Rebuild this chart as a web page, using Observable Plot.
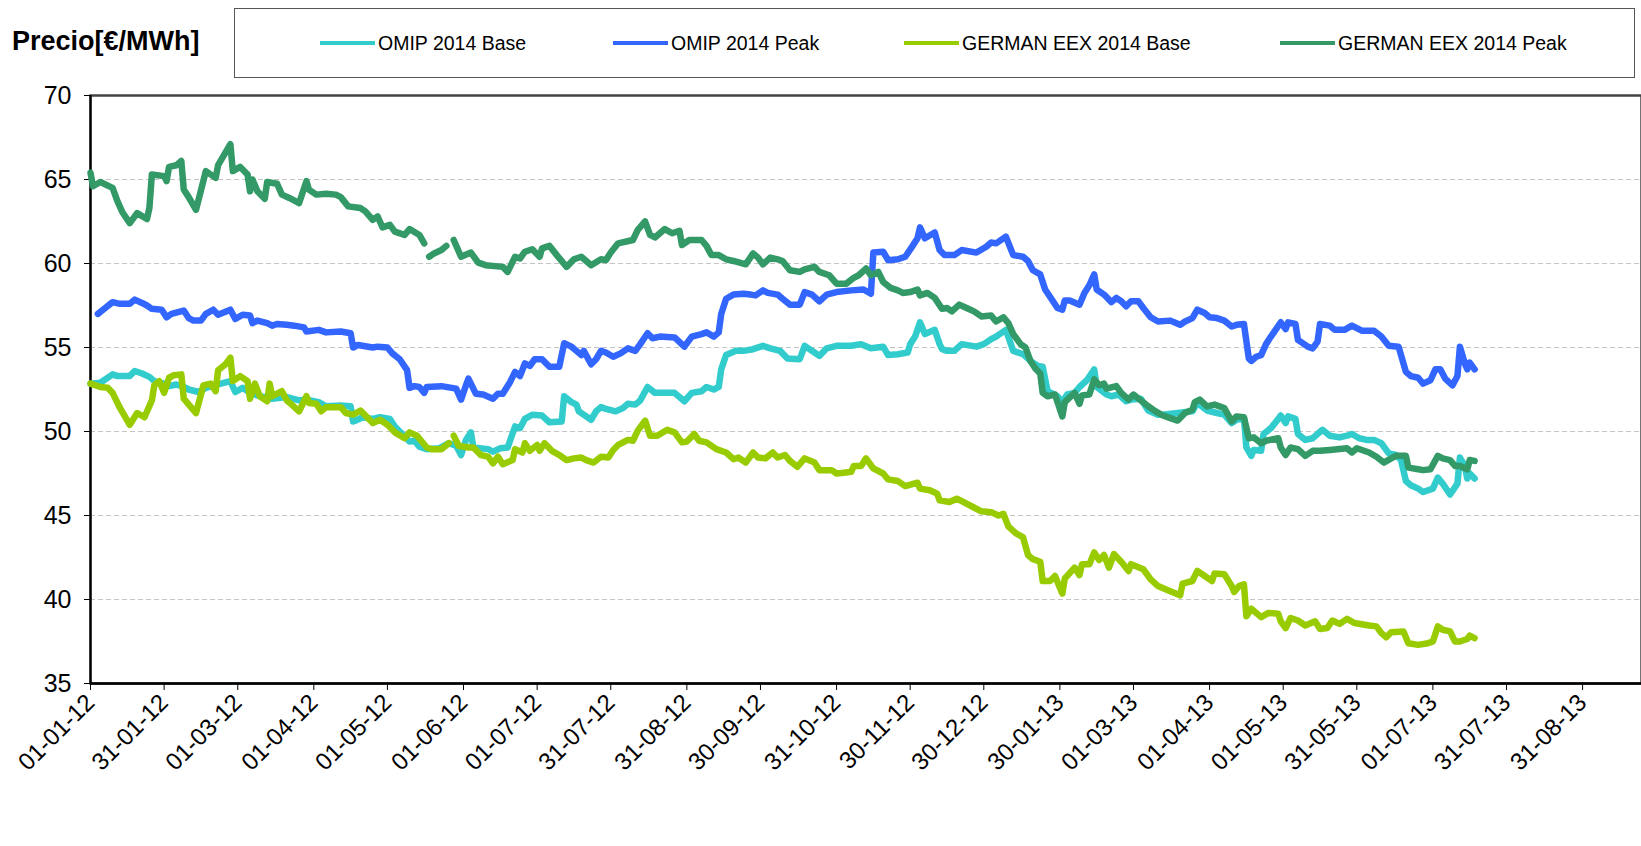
<!DOCTYPE html>
<html><head><meta charset="utf-8">
<script src="https://cdn.jsdelivr.net/npm/d3@7"></script>
<script src="https://cdn.jsdelivr.net/npm/@observablehq/plot@0.6"></script>
<style>
body{margin:0;background:#fff;font-family:"Liberation Sans",Arial,sans-serif;}
#wrap{position:relative;width:1641px;height:846px;overflow:hidden;background:#fff;}
#chart{position:absolute;left:0;top:0;}
#title{position:absolute;left:12px;top:26px;font-weight:bold;font-size:27px;color:#000;white-space:nowrap;}
#legend{position:absolute;left:234px;top:8px;width:1401px;height:70px;border:1px solid #555;box-sizing:border-box;background:#fff;}
.item{position:absolute;top:0;height:100%;display:flex;align-items:center;font-size:19.5px;color:#000;white-space:nowrap;}
.sw{display:inline-block;width:55px;height:4px;margin-right:3px;}
</style></head>
<body><div id="wrap"><div id="chart"></div><div id="title">Precio[€/MWh]</div><div id="legend"></div></div>
<script>
const seriesNames = ["OMIP 2014 Base","OMIP 2014 Peak","GERMAN EEX 2014 Base","GERMAN EEX 2014 Peak"];
const seriesColors = ["#33CCCC","#3366FF","#99CC00","#339966"];
const yTicks = [35,40,45,50,55,60,65,70];
const gridValues = [40,45,50,55,60,65];
const tickDates = ["2012-01-01","2012-01-31","2012-03-01","2012-04-01","2012-05-01","2012-06-01","2012-07-01","2012-07-31","2012-08-31","2012-09-30","2012-10-31","2012-11-30","2012-12-30","2013-01-30","2013-03-01","2013-04-01","2013-05-01","2013-05-31","2013-07-01","2013-07-31","2013-08-31"];

const omipBaseDates = ["2012-01-01","2012-01-05","2012-01-10","2012-01-12","2012-01-17","2012-01-19","2012-01-22","2012-01-25","2012-01-27","2012-01-31","2012-02-02","2012-02-05","2012-02-08","2012-02-10","2012-02-14","2012-02-17","2012-02-22","2012-02-27","2012-02-29","2012-03-03","2012-03-06","2012-03-10","2012-03-15","2012-03-21","2012-03-26","2012-03-29","2012-04-03","2012-04-06","2012-04-12","2012-04-16","2012-04-17","2012-04-18","2012-04-21","2012-04-25","2012-04-28","2012-05-02","2012-05-04","2012-05-07","2012-05-10","2012-05-12","2012-05-14","2012-05-17","2012-05-22","2012-05-26","2012-05-29","2012-05-31","2012-06-02","2012-06-04","2012-06-05","2012-06-11","2012-06-13","2012-06-16","2012-06-19","2012-06-22","2012-06-24","2012-06-26","2012-06-29","2012-07-03","2012-07-06","2012-07-11","2012-07-12","2012-07-15","2012-07-17","2012-07-18","2012-07-23","2012-07-25","2012-07-27","2012-07-29","2012-08-02","2012-08-05","2012-08-07","2012-08-10","2012-08-12","2012-08-15","2012-08-18","2012-08-22","2012-08-26","2012-08-30","2012-09-02","2012-09-06","2012-09-08","2012-09-11","2012-09-13","2012-09-14","2012-09-16","2012-09-20","2012-09-23","2012-09-27","2012-10-01","2012-10-04","2012-10-08","2012-10-11","2012-10-16","2012-10-18","2012-10-22","2012-10-24","2012-10-27","2012-10-31","2012-11-06","2012-11-10","2012-11-14","2012-11-19","2012-11-21","2012-11-25","2012-11-29","2012-11-30","2012-12-02","2012-12-04","2012-12-06","2012-12-10","2012-12-12","2012-12-13","2012-12-15","2012-12-18","2012-12-21","2012-12-27","2012-12-30","2013-01-02","2013-01-04","2013-01-08","2013-01-11","2013-01-15","2013-01-18","2013-01-21","2013-01-23","2013-01-25","2013-01-29","2013-01-31","2013-02-02","2013-02-05","2013-02-07","2013-02-10","2013-02-13","2013-02-14","2013-02-18","2013-02-20","2013-02-23","2013-02-26","2013-02-28","2013-03-04","2013-03-07","2013-03-11","2013-03-13","2013-03-19","2013-03-25","2013-03-27","2013-03-31","2013-04-04","2013-04-07","2013-04-10","2013-04-12","2013-04-15","2013-04-16","2013-04-18","2013-04-19","2013-04-22","2013-04-23","2013-04-26","2013-04-29","2013-04-30","2013-05-02","2013-05-03","2013-05-06","2013-05-07","2013-05-10","2013-05-13","2013-05-15","2013-05-17","2013-05-20","2013-05-24","2013-05-27","2013-05-29","2013-06-01","2013-06-04","2013-06-07","2013-06-10","2013-06-13","2013-06-16","2013-06-18","2013-06-20","2013-06-22","2013-06-25","2013-06-27","2013-07-01","2013-07-03","2013-07-05","2013-07-08","2013-07-11","2013-07-12","2013-07-14","2013-07-15","2013-07-16","2013-07-18"];
const omipBaseValues = [52.85,52.9,53.4,53.3,53.3,53.6,53.45,53.25,53.0,52.85,52.7,52.8,52.65,52.5,52.35,52.6,52.8,53.0,52.35,52.6,52.3,52.1,51.95,52.05,51.85,51.9,51.75,51.5,51.55,51.5,50.6,50.65,50.85,50.75,50.85,50.75,50.3,49.85,49.4,49.45,49.1,48.95,49.0,49.3,49.15,48.6,49.5,49.95,49.05,48.95,48.8,49.0,49.05,50.3,50.2,50.75,51.0,50.95,50.55,50.6,52.1,51.75,51.6,51.2,50.7,51.2,51.45,51.35,51.2,51.4,51.65,51.6,51.85,52.65,52.3,52.3,52.3,51.8,52.3,52.4,52.65,52.5,52.65,53.7,54.55,54.8,54.8,54.9,55.1,54.95,54.8,54.35,54.3,55.1,54.7,54.5,54.95,55.1,55.1,55.2,54.95,55.05,54.55,54.6,54.7,55.2,55.65,56.5,55.8,56.05,55.2,54.9,54.8,54.8,55.2,55.05,55.2,55.5,55.65,56.05,54.8,54.6,54.2,53.9,53.85,52.4,52.1,51.75,52.2,52.3,52.65,53.05,53.7,52.65,52.2,52.1,52.2,51.8,51.9,51.95,51.25,51.0,51.0,51.1,51.2,51.7,51.25,51.1,51.0,50.5,50.7,50.8,49.05,48.55,48.9,48.85,49.85,50.2,50.75,50.95,50.5,50.9,50.75,49.85,49.5,49.6,49.85,50.1,49.75,49.65,49.75,49.85,49.6,49.5,49.5,49.3,48.7,48.6,48.3,47.05,46.8,46.6,46.4,46.6,47.25,46.9,46.25,46.9,48.45,47.95,47.2,47.5,47.2];

const omipPeakDates = ["2012-01-04","2012-01-07","2012-01-10","2012-01-13","2012-01-17","2012-01-19","2012-01-22","2012-01-24","2012-01-26","2012-01-30","2012-02-01","2012-02-03","2012-02-08","2012-02-10","2012-02-12","2012-02-15","2012-02-17","2012-02-20","2012-02-22","2012-02-27","2012-02-29","2012-03-03","2012-03-06","2012-03-07","2012-03-09","2012-03-13","2012-03-15","2012-03-17","2012-03-21","2012-03-24","2012-03-28","2012-03-29","2012-04-03","2012-04-06","2012-04-12","2012-04-16","2012-04-17","2012-04-19","2012-04-25","2012-04-27","2012-05-01","2012-05-03","2012-05-06","2012-05-09","2012-05-10","2012-05-12","2012-05-14","2012-05-16","2012-05-17","2012-05-23","2012-05-29","2012-05-31","2012-06-02","2012-06-03","2012-06-06","2012-06-09","2012-06-13","2012-06-15","2012-06-17","2012-06-20","2012-06-22","2012-06-24","2012-06-26","2012-06-28","2012-06-30","2012-07-03","2012-07-06","2012-07-10","2012-07-12","2012-07-15","2012-07-17","2012-07-19","2012-07-20","2012-07-23","2012-07-25","2012-07-27","2012-07-29","2012-08-01","2012-08-04","2012-08-07","2012-08-10","2012-08-12","2012-08-15","2012-08-17","2012-08-20","2012-08-26","2012-08-30","2012-09-02","2012-09-06","2012-09-08","2012-09-11","2012-09-13","2012-09-14","2012-09-16","2012-09-19","2012-09-23","2012-09-26","2012-09-28","2012-10-01","2012-10-03","2012-10-07","2012-10-09","2012-10-12","2012-10-16","2012-10-18","2012-10-21","2012-10-24","2012-10-27","2012-10-31","2012-11-06","2012-11-11","2012-11-14","2012-11-15","2012-11-19","2012-11-21","2012-11-25","2012-11-28","2012-12-01","2012-12-03","2012-12-04","2012-12-06","2012-12-10","2012-12-12","2012-12-14","2012-12-18","2012-12-21","2012-12-27","2012-12-31","2013-01-02","2013-01-04","2013-01-08","2013-01-11","2013-01-15","2013-01-17","2013-01-19","2013-01-22","2013-01-24","2013-01-27","2013-01-29","2013-01-31","2013-02-01","2013-02-03","2013-02-07","2013-02-09","2013-02-11","2013-02-13","2013-02-14","2013-02-17","2013-02-20","2013-02-22","2013-02-24","2013-02-26","2013-02-28","2013-03-03","2013-03-05","2013-03-08","2013-03-11","2013-03-16","2013-03-20","2013-03-22","2013-03-25","2013-03-27","2013-03-30","2013-04-01","2013-04-04","2013-04-07","2013-04-10","2013-04-12","2013-04-15","2013-04-17","2013-04-18","2013-04-20","2013-04-22","2013-04-24","2013-04-26","2013-04-30","2013-05-02","2013-05-03","2013-05-06","2013-05-07","2013-05-11","2013-05-13","2013-05-15","2013-05-16","2013-05-20","2013-05-22","2013-05-26","2013-05-29","2013-06-02","2013-06-07","2013-06-10","2013-06-13","2013-06-17","2013-06-20","2013-06-22","2013-06-25","2013-06-27","2013-06-30","2013-07-02","2013-07-04","2013-07-06","2013-07-09","2013-07-11","2013-07-12","2013-07-14","2013-07-15","2013-07-16","2013-07-18"];
const omipPeakValues = [57.0,57.35,57.7,57.6,57.6,57.85,57.65,57.5,57.3,57.25,56.8,57.0,57.2,56.75,56.6,56.6,57.0,57.25,56.95,57.25,56.7,56.95,56.9,56.45,56.6,56.45,56.3,56.4,56.35,56.3,56.2,55.95,56.05,55.9,55.95,55.85,55.0,55.15,55.0,55.05,55.0,54.65,54.3,53.65,52.6,52.7,52.65,52.3,52.65,52.7,52.55,51.9,52.75,53.15,52.25,52.2,51.95,52.25,52.25,52.95,53.55,53.3,54.05,53.9,54.3,54.3,53.85,53.85,55.25,55.05,54.8,54.55,54.8,54.0,54.3,54.8,54.7,54.45,54.65,54.95,54.8,55.2,55.85,55.55,55.65,55.6,55.05,55.65,55.8,55.9,55.65,55.9,57.0,57.9,58.15,58.2,58.15,58.1,58.4,58.25,58.15,57.9,57.55,57.55,58.3,58.15,57.75,58.15,58.3,58.4,58.45,58.2,60.65,60.7,60.2,60.25,60.4,61.05,61.5,62.15,61.5,61.85,60.8,60.5,60.5,60.8,60.65,61.0,61.25,61.2,61.6,60.5,60.4,60.15,59.6,59.35,58.45,57.8,57.35,57.25,57.8,57.8,57.55,58.25,58.7,59.35,58.45,58.15,57.7,57.95,57.75,57.45,57.75,57.75,57.35,56.8,56.55,56.6,56.35,56.55,56.75,57.25,57.05,56.8,56.75,56.6,56.25,56.35,56.4,54.35,54.2,54.45,54.55,55.2,55.65,56.5,56.1,56.5,56.4,55.45,55.05,54.95,55.35,56.4,56.3,56.05,56.05,56.3,56.0,56.0,55.65,55.1,55.05,53.55,53.3,53.2,52.85,53.05,53.7,53.7,53.15,52.75,53.3,55.05,54.05,53.7,54.1,53.7];

const germanBaseDates = ["2012-01-01","2012-01-05","2012-01-08","2012-01-10","2012-01-13","2012-01-17","2012-01-20","2012-01-23","2012-01-26","2012-01-27","2012-01-29","2012-01-31","2012-02-02","2012-02-04","2012-02-07","2012-02-08","2012-02-13","2012-02-16","2012-02-19","2012-02-21","2012-02-22","2012-02-25","2012-02-27","2012-02-28","2012-03-02","2012-03-05","2012-03-06","2012-03-08","2012-03-10","2012-03-13","2012-03-14","2012-03-15","2012-03-19","2012-03-21","2012-03-23","2012-03-26","2012-03-29","2012-03-30","2012-04-02","2012-04-04","2012-04-06","2012-04-12","2012-04-14","2012-04-17","2012-04-20","2012-04-22","2012-04-25","2012-04-28","2012-05-01","2012-05-04","2012-05-08","2012-05-10","2012-05-13","2012-05-17","2012-05-19","2012-05-23","2012-05-26","2012-05-27","2012-05-28","2012-05-30","2012-06-03","2012-06-05","2012-06-08","2012-06-11","2012-06-13","2012-06-15","2012-06-17","2012-06-21","2012-06-22","2012-06-25","2012-06-26","2012-06-28","2012-07-01","2012-07-02","2012-07-04","2012-07-07","2012-07-10","2012-07-13","2012-07-16","2012-07-19","2012-07-21","2012-07-24","2012-07-27","2012-07-30","2012-08-01","2012-08-03","2012-08-07","2012-08-09","2012-08-11","2012-08-14","2012-08-16","2012-08-19","2012-08-23","2012-08-26","2012-08-29","2012-08-31","2012-09-03","2012-09-05","2012-09-08","2012-09-12","2012-09-16","2012-09-19","2012-09-21","2012-09-24","2012-09-27","2012-09-29","2012-10-02","2012-10-05","2012-10-07","2012-10-10","2012-10-12","2012-10-15","2012-10-18","2012-10-22","2012-10-24","2012-10-29","2012-10-31","2012-11-03","2012-11-06","2012-11-07","2012-11-10","2012-11-12","2012-11-15","2012-11-19","2012-11-21","2012-11-25","2012-11-28","2012-12-03","2012-12-04","2012-12-08","2012-12-11","2012-12-12","2012-12-16","2012-12-19","2012-12-21","2012-12-25","2012-12-29","2013-01-02","2013-01-05","2013-01-07","2013-01-09","2013-01-12","2013-01-15","2013-01-17","2013-01-19","2013-01-22","2013-01-23","2013-01-26","2013-01-28","2013-01-31","2013-02-01","2013-02-05","2013-02-07","2013-02-08","2013-02-11","2013-02-13","2013-02-15","2013-02-17","2013-02-19","2013-02-21","2013-02-24","2013-02-27","2013-02-28","2013-03-05","2013-03-08","2013-03-11","2013-03-15","2013-03-20","2013-03-21","2013-03-25","2013-03-27","2013-03-30","2013-04-02","2013-04-03","2013-04-07","2013-04-10","2013-04-11","2013-04-13","2013-04-15","2013-04-16","2013-04-18","2013-04-22","2013-04-25","2013-04-29","2013-04-30","2013-05-02","2013-05-04","2013-05-07","2013-05-10","2013-05-14","2013-05-16","2013-05-19","2013-05-21","2013-05-24","2013-05-27","2013-05-30","2013-06-05","2013-06-08","2013-06-10","2013-06-12","2013-06-14","2013-06-19","2013-06-21","2013-06-25","2013-06-29","2013-07-01","2013-07-03","2013-07-05","2013-07-08","2013-07-10","2013-07-12","2013-07-15","2013-07-16","2013-07-18"];
const germanBaseValues = [52.85,52.65,52.6,52.3,51.4,50.4,51.1,50.85,51.85,52.75,53.0,52.3,53.2,53.35,53.4,51.95,51.1,52.75,52.85,52.4,53.65,54.0,54.4,53.0,53.3,53.0,51.95,52.85,52.1,51.8,52.85,52.1,52.4,51.85,51.6,51.2,52.1,51.7,51.65,51.2,51.45,51.45,51.1,51.0,51.25,50.95,50.5,50.7,50.4,49.95,49.6,49.95,49.75,49.05,48.95,48.95,49.3,null,49.75,49.15,49.05,49.05,48.6,48.5,48.1,48.5,48.05,48.3,48.95,48.75,49.3,48.85,49.2,48.85,49.3,48.85,48.6,48.3,48.4,48.45,48.3,48.15,48.5,48.45,48.9,49.2,49.5,49.45,50.05,50.65,49.75,49.75,50.1,49.95,49.35,49.4,49.85,49.45,49.35,48.95,48.75,48.35,48.45,48.15,48.75,48.45,48.4,48.75,48.45,48.6,48.25,47.9,48.4,48.15,47.7,47.7,47.5,47.55,47.6,47.95,47.95,48.4,47.8,47.5,47.15,47.05,46.75,46.95,46.6,46.5,46.3,45.9,45.8,46.0,45.85,45.55,45.25,45.2,45.0,45.1,44.35,43.95,43.7,42.65,42.4,42.25,41.1,41.1,41.4,40.35,41.25,41.9,41.45,42.1,42.1,42.8,42.35,42.65,41.9,42.7,42.25,41.7,42.1,41.8,41.2,40.8,40.55,40.25,40.95,41.1,41.7,41.4,41.1,41.55,41.5,40.8,40.45,40.8,40.9,39.0,39.45,38.95,39.2,39.15,38.7,38.3,38.9,38.75,38.45,38.7,38.25,38.3,38.75,38.55,38.85,38.6,38.45,38.4,38.0,37.75,38.05,38.1,37.4,37.3,37.4,37.5,38.4,38.2,38.1,37.5,37.5,37.65,37.85,37.7];

const germanPeakDates = ["2012-01-01","2012-01-02","2012-01-05","2012-01-10","2012-01-12","2012-01-14","2012-01-17","2012-01-20","2012-01-24","2012-01-25","2012-01-26","2012-01-31","2012-02-01","2012-02-02","2012-02-05","2012-02-07","2012-02-08","2012-02-10","2012-02-13","2012-02-17","2012-02-21","2012-02-22","2012-02-27","2012-02-28","2012-03-02","2012-03-05","2012-03-06","2012-03-07","2012-03-09","2012-03-12","2012-03-13","2012-03-17","2012-03-19","2012-03-22","2012-03-26","2012-03-29","2012-03-30","2012-04-02","2012-04-06","2012-04-10","2012-04-12","2012-04-15","2012-04-20","2012-04-22","2012-04-25","2012-04-27","2012-04-29","2012-05-02","2012-05-04","2012-05-08","2012-05-10","2012-05-14","2012-05-16","2012-05-17","2012-05-18","2012-05-20","2012-05-23","2012-05-25","2012-05-27","2012-05-28","2012-05-31","2012-06-04","2012-06-07","2012-06-10","2012-06-17","2012-06-19","2012-06-22","2012-06-24","2012-06-26","2012-06-29","2012-07-02","2012-07-03","2012-07-06","2012-07-09","2012-07-13","2012-07-16","2012-07-19","2012-07-21","2012-07-23","2012-07-27","2012-07-29","2012-07-31","2012-08-03","2012-08-09","2012-08-11","2012-08-14","2012-08-16","2012-08-18","2012-08-22","2012-08-25","2012-08-28","2012-08-29","2012-09-01","2012-09-06","2012-09-08","2012-09-10","2012-09-13","2012-09-16","2012-09-19","2012-09-24","2012-09-27","2012-09-29","2012-10-01","2012-10-04","2012-10-07","2012-10-09","2012-10-12","2012-10-16","2012-10-18","2012-10-22","2012-10-24","2012-10-28","2012-10-31","2012-11-04","2012-11-07","2012-11-09","2012-11-12","2012-11-14","2012-11-17","2012-11-19","2012-11-22","2012-11-25","2012-11-27","2012-11-30","2012-12-03","2012-12-04","2012-12-07","2012-12-10","2012-12-13","2012-12-15","2012-12-17","2012-12-20","2012-12-23","2012-12-26","2012-12-29","2013-01-02","2013-01-04","2013-01-07","2013-01-09","2013-01-11","2013-01-14","2013-01-16","2013-01-18","2013-01-20","2013-01-22","2013-01-23","2013-01-25","2013-01-28","2013-01-31","2013-02-01","2013-02-05","2013-02-07","2013-02-08","2013-02-11","2013-02-13","2013-02-15","2013-02-17","2013-02-18","2013-02-22","2013-02-24","2013-02-27","2013-03-01","2013-03-04","2013-03-07","2013-03-10","2013-03-13","2013-03-16","2013-03-19","2013-03-22","2013-03-25","2013-03-26","2013-03-28","2013-03-31","2013-04-03","2013-04-07","2013-04-10","2013-04-12","2013-04-15","2013-04-17","2013-04-19","2013-04-22","2013-04-24","2013-04-29","2013-04-30","2013-05-02","2013-05-04","2013-05-07","2013-05-10","2013-05-13","2013-05-16","2013-05-20","2013-05-27","2013-05-29","2013-05-31","2013-06-05","2013-06-08","2013-06-11","2013-06-14","2013-06-16","2013-06-20","2013-06-21","2013-06-25","2013-06-27","2013-06-30","2013-07-03","2013-07-05","2013-07-08","2013-07-10","2013-07-12","2013-07-15","2013-07-16","2013-07-18"];
const germanPeakValues = [65.4,64.6,64.85,64.5,63.7,63.05,62.4,63.0,62.65,63.3,65.3,65.2,64.9,65.75,65.85,66.1,64.4,63.95,63.2,65.5,65.1,65.85,67.1,65.5,65.75,65.3,64.3,65.0,64.3,63.85,64.85,64.75,64.1,63.9,63.6,64.9,64.4,64.1,64.15,64.1,63.95,63.4,63.3,63.1,62.6,62.8,62.15,62.3,61.9,61.7,62.05,61.7,61.2,null,60.4,60.6,60.8,61.05,null,61.4,60.4,60.65,60.05,59.9,59.8,59.5,60.4,60.3,60.7,60.85,60.4,60.9,61.05,60.5,59.8,60.25,60.4,60.15,59.9,60.25,60.2,60.65,61.2,61.4,62.0,62.5,61.7,61.55,62.05,61.8,61.95,61.1,61.4,61.4,61.05,60.5,60.5,60.25,60.15,59.95,60.6,60.35,59.95,60.35,60.25,60.15,59.6,59.5,59.65,59.8,59.5,59.3,58.8,58.8,59.15,59.3,59.7,59.3,59.5,58.9,58.55,58.4,58.25,58.3,58.45,58.1,58.25,57.95,57.3,57.35,57.15,57.55,57.35,57.15,56.85,56.9,56.55,56.8,56.45,55.8,55.2,55.0,54.2,53.75,53.45,52.3,52.1,52.2,50.9,51.75,52.3,51.65,52.15,52.2,53.1,52.75,52.85,52.55,52.7,52.3,51.9,52.2,51.85,51.5,51.2,50.95,50.8,50.65,51.1,51.3,51.75,51.9,51.5,51.6,51.4,50.6,50.9,50.85,49.6,49.65,49.3,49.45,49.6,49.05,48.6,49.05,48.95,48.55,48.85,48.85,48.9,49.0,48.75,49.0,48.75,48.5,48.15,48.4,48.55,48.55,47.85,47.75,47.7,47.75,48.55,48.4,48.3,47.95,47.95,47.75,48.3,48.25];

const parse = d3.utcParse("%Y-%m-%d");
const seriesDates = [omipBaseDates, omipPeakDates, germanBaseDates, germanPeakDates];
const seriesValues = [omipBaseValues, omipPeakValues, germanBaseValues, germanPeakValues];

const lineMarks = seriesNames.map((name, k) => {
  const data = seriesDates[k].map((d, i) => ({date: parse(d), value: seriesValues[k][i]}));
  return Plot.line(data, {x: "date", y: "value", stroke: seriesColors[k], strokeWidth: 6.5, strokeLinejoin: "round", strokeLinecap: "round"});
});

const chart = Plot.plot({
  width: 1641,
  height: 846,
  marginTop: 95,
  marginBottom: 163,
  marginLeft: 90,
  marginRight: 0,
  x: {type: "utc", domain: [parse("2012-01-01"), parse("2013-09-24")]},
  y: {domain: [35, 70]},
  style: {fontFamily: "'Liberation Sans', Arial, sans-serif", color: "#000", background: "#fff"},
  marks: [
    Plot.ruleY(gridValues, {stroke: "#c4c4c4", strokeWidth: 1, strokeDasharray: "5,3"}),
    Plot.frame({stroke: "#444", strokeWidth: 2.5}),
    Plot.axisY({ticks: yTicks, tickSize: 6, tickPadding: 13, fontSize: 25, label: null}),
    Plot.axisX({ticks: tickDates.map(parse), tickFormat: d3.utcFormat("%d-%m-%y"), tickRotate: -45, tickSize: 7, tickPadding: 8, fontSize: 24, label: null}),
    Plot.ruleX([parse("2012-01-01")], {stroke: "#000", strokeWidth: 2}),
    Plot.ruleY([35], {stroke: "#000", strokeWidth: 2.5}),
    ...lineMarks
  ]
});
document.getElementById("chart").appendChild(chart);

const legendX = [85, 378, 669, 1045];
const legend = document.getElementById("legend");
seriesNames.forEach((name, k) => {
  const item = document.createElement("div");
  item.className = "item";
  item.style.left = legendX[k] + "px";
  const sw = document.createElement("span");
  sw.className = "sw";
  sw.style.background = seriesColors[k];
  item.appendChild(sw);
  item.appendChild(document.createTextNode(name));
  legend.appendChild(item);
});
</script>
</body></html>
